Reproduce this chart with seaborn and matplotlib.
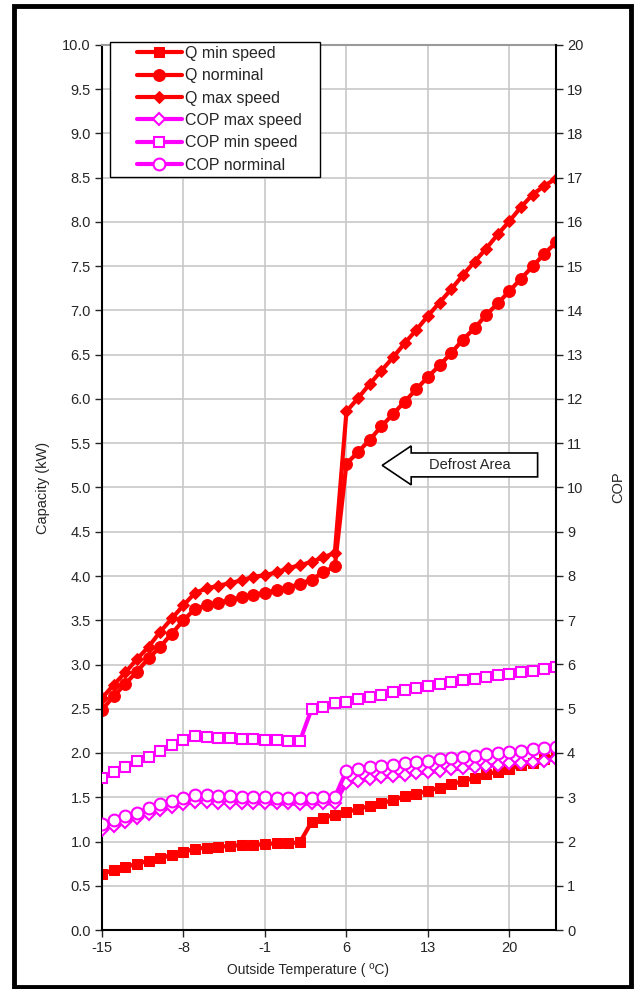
'''
Heat pump capacity and COP versus outside temperature.
'''
import matplotlib
matplotlib.use('Agg')
import matplotlib.pyplot as plt
from matplotlib.patches import Polygon, Rectangle
import seaborn as sns

temps = list(range(-15, 25))

q_min = [0.63, 0.68, 0.71, 0.75, 0.78, 0.81, 0.85, 0.88, 0.92, 0.93,
         0.94, 0.95, 0.96, 0.96, 0.97, 0.98, 0.98, 0.99, 1.22, 1.27,
         1.30, 1.33, 1.37, 1.40, 1.43, 1.47, 1.51, 1.54, 1.57, 1.61,
         1.65, 1.68, 1.72, 1.76, 1.79, 1.82, 1.86, 1.89, 1.93, 1.97]
q_nom = [2.49, 2.64, 2.78, 2.92, 3.07, 3.20, 3.35, 3.50, 3.63, 3.67,
         3.70, 3.73, 3.76, 3.79, 3.81, 3.84, 3.87, 3.91, 3.96, 4.04,
         4.11, 5.27, 5.40, 5.54, 5.69, 5.83, 5.97, 6.11, 6.25, 6.38,
         6.52, 6.67, 6.80, 6.95, 7.08, 7.22, 7.36, 7.50, 7.64, 7.77]
q_max = [2.62, 2.77, 2.91, 3.06, 3.20, 3.37, 3.52, 3.67, 3.81, 3.86,
         3.89, 3.92, 3.95, 3.99, 4.01, 4.04, 4.09, 4.12, 4.16, 4.21,
         4.26, 5.86, 6.01, 6.17, 6.32, 6.47, 6.63, 6.78, 6.94, 7.09,
         7.24, 7.40, 7.55, 7.70, 7.86, 8.01, 8.17, 8.31, 8.41, 8.49]
cop_max = [2.27, 2.35, 2.45, 2.53, 2.63, 2.71, 2.78, 2.85, 2.90, 2.90,
           2.88, 2.88, 2.87, 2.87, 2.86, 2.86, 2.86, 2.85, 2.86, 2.86,
           2.86, 3.33, 3.37, 3.41, 3.45, 3.48, 3.50, 3.54, 3.56, 3.60,
           3.63, 3.65, 3.69, 3.71, 3.73, 3.77, 3.78, 3.80, 3.83, 3.86]
cop_min = [3.43, 3.56, 3.68, 3.81, 3.92, 4.05, 4.17, 4.29, 4.39, 4.37,
           4.35, 4.34, 4.32, 4.31, 4.30, 4.29, 4.28, 4.27, 4.99, 5.05,
           5.12, 5.16, 5.21, 5.27, 5.32, 5.37, 5.42, 5.46, 5.51, 5.56,
           5.60, 5.64, 5.68, 5.72, 5.76, 5.79, 5.82, 5.86, 5.90, 5.94]
cop_nom = [2.39, 2.48, 2.58, 2.65, 2.75, 2.84, 2.91, 2.99, 3.05, 3.04,
           3.03, 3.03, 3.01, 3.01, 3.00, 2.99, 2.98, 2.98, 2.99, 3.00,
           3.00, 3.60, 3.64, 3.68, 3.71, 3.74, 3.77, 3.80, 3.83, 3.86,
           3.89, 3.92, 3.94, 3.97, 4.00, 4.03, 4.05, 4.08, 4.11, 4.13]

x_ticks = [-15, -8, -1, 6, 13, 20]

RED = '#ff0000'
MAGENTA = '#ff00ff'

sns.set_style('white')
plt.rcParams['font.family'] = ['Liberation Sans', 'DejaVu Sans']
plt.rcParams['font.size'] = 10
plt.rcParams['axes.unicode_minus'] = False

fig = plt.figure(figsize=(6.38, 9.89), dpi=100)
W, H = 638, 989
ax = fig.add_axes([102 / W, (H - 930) / H, (556 - 102) / W, (930 - 45) / H])
ax2 = ax.twinx()

lw = 3.0
sns.lineplot(x=temps, y=q_min, ax=ax, color=RED, lw=lw, marker='s', markersize=7,
             markeredgecolor=RED, label='Q min speed', legend=False)
sns.lineplot(x=temps, y=q_nom, ax=ax, color=RED, lw=lw, marker='o', markersize=8.5,
             markeredgecolor=RED, label='Q norminal', legend=False)
sns.lineplot(x=temps, y=q_max, ax=ax, color=RED, lw=lw, marker='D', markersize=6,
             markeredgecolor=RED, label='Q max speed', legend=False)
sns.lineplot(x=temps, y=cop_max, ax=ax2, color=MAGENTA, lw=lw, marker='D', markersize=6,
             markerfacecolor='white', markeredgecolor=MAGENTA, markeredgewidth=1.5,
             label='COP max speed', legend=False)
sns.lineplot(x=temps, y=cop_min, ax=ax2, color=MAGENTA, lw=lw, marker='s', markersize=7.5,
             markerfacecolor='white', markeredgecolor=MAGENTA, markeredgewidth=1.5,
             label='COP min speed', legend=False)
sns.lineplot(x=temps, y=cop_nom, ax=ax2, color=MAGENTA, lw=lw, marker='o', markersize=8.5,
             markerfacecolor='white', markeredgecolor=MAGENTA, markeredgewidth=1.5,
             label='COP norminal', legend=False)

ax.set_xlim(-15, 24)
ax.set_ylim(0, 10)
ax2.set_ylim(0, 20)
ax.set_xticks(x_ticks)
ax.set_yticks([i * 0.5 for i in range(21)])
ax.set_yticklabels(['%.1f' % (i * 0.5) for i in range(21)])
ax2.set_yticks(range(21))

ax.grid(True, color='#c8c8c8', lw=1.2)
ax2.grid(False)
ax.set_axisbelow(True)

for s in ['left', 'bottom']:
    ax.spines[s].set_color('black')
    ax.spines[s].set_linewidth(1.5)
ax.spines['top'].set_color('#9a9a9a')
ax.spines['top'].set_linewidth(1.5)
ax.spines['right'].set_visible(False)
ax2.spines['right'].set_color('black')
ax2.spines['right'].set_linewidth(1.5)
for s in ['left', 'bottom', 'top']:
    ax2.spines[s].set_visible(False)

ax.tick_params(axis='y', direction='out', length=5, width=1, left=True, pad=3, labelsize=10.5)
ax.tick_params(axis='x', direction='out', length=5, width=1, bottom=True, pad=3, labelsize=10.5)
ax2.tick_params(axis='y', direction='out', length=5, width=1, right=True, pad=3, labelsize=10.5)

ax.set_xlabel('Outside Temperature ( ºC)', fontsize=10)
ax.xaxis.set_label_coords((308 - 102) / 454, -33 / 885)
ax.set_ylabel('Capacity (kW)', fontsize=10.5)
ax.yaxis.set_label_coords(-52 / 454, 0.5)
ax2.set_ylabel('COP', fontsize=10.5)
ax2.yaxis.set_label_coords(1 + 55 / 454, 0.5)

# defrost arrow, drawn in capacity units
arrow = Polygon([(9.07, 5.25), (11.56, 5.47), (11.56, 5.39), (22.42, 5.39),
                 (22.42, 5.12), (11.56, 5.12), (11.56, 5.03)],
                closed=True, fc='white', ec='black', lw=1.2, zorder=5,
                transform=ax.transData)
ax2.add_patch(arrow)
ax2.text(16.6, 5.25, 'Defrost Area', transform=ax.transData, ha='center',
         va='center', fontsize=10.5, zorder=6)

# legend box like the spreadsheet one, then the entries inside it
box = Rectangle(((110 - 102) / 454, (930 - 177) / 885), 210 / 454, 135 / 885,
                transform=ax2.transAxes, fc='white', ec='black', lw=1.0,
                zorder=4, clip_on=False)
ax2.add_patch(box)
h1, l1 = ax.get_legend_handles_labels()
h2, l2 = ax2.get_legend_handles_labels()
leg = ax2.legend(h1 + h2, l1 + l2, loc='upper left',
                 bbox_to_anchor=((137 - 102) / 454, (930 - 46) / 885),
                 borderaxespad=0, frameon=False, borderpad=0,
                 handlelength=2.8, handletextpad=0.2, labelspacing=0.46,
                 fontsize=11.5)
leg.set_zorder(6)

# outer frame
fig.patches.append(Rectangle((14 / W, 2 / H), (631 - 14) / W, (983 - 2) / H,
                             transform=fig.transFigure, fill=False, ec='black', lw=3.5))

fig.savefig('out.png', dpi=100)
